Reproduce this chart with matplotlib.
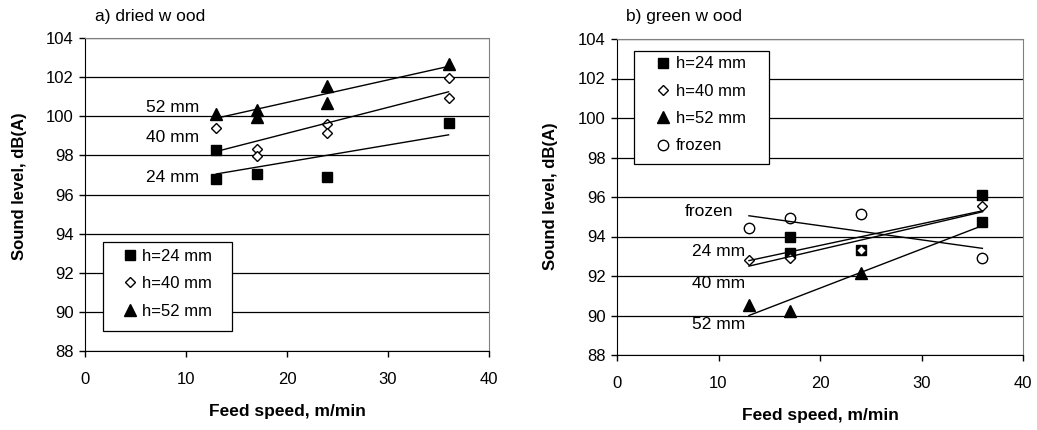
import matplotlib
matplotlib.use('Agg')
import matplotlib.pyplot as plt
from matplotlib.patches import Rectangle

plt.rcParams['font.family'] = ['Liberation Sans', 'DejaVu Sans']

# ---- data ----
# a) dried wood
speed_d24 = [13, 13, 17, 24, 36]
level_d24 = [98.3, 96.8, 97.05, 96.9, 99.65]
speed_d40 = [13, 17, 17, 24, 24, 36, 36]
level_d40 = [99.4, 98.35, 97.95, 99.6, 99.15, 101.95, 100.95]
speed_d52 = [13, 17, 17, 24, 24, 36]
level_d52 = [100.1, 100.3, 99.95, 101.55, 100.7, 102.65]

# b) green wood
speed_g24 = [17, 17, 24, 36, 36]
level_g24 = [93.95, 93.15, 93.3, 96.1, 94.75]
speed_g40 = [13, 17, 24, 36]
level_g40 = [92.8, 92.9, 93.3, 95.55]
speed_g52 = [13, 17, 24]
level_g52 = [90.55, 90.25, 92.15]
speed_frozen = [13, 17, 24, 36]
level_frozen = [94.45, 94.95, 95.15, 92.9]

# trend lines (end points at the speed range)
fit_speed = [13, 36]
fit_d24 = [97.05, 99.05]
fit_d40 = [98.2, 101.25]
fit_d52 = [99.9, 102.55]
fit_g24 = [92.78, 95.3]
fit_g40 = [92.5, 95.25]
fit_g52 = [90.0, 94.55]
fit_frozen = [95.05, 93.4]

x_ticks = [0, 10, 20, 30, 40]
y_ticks = list(range(88, 105, 2))

FS = 12
FS_BIG = 12.5
sq = dict(marker='s', ms=7.7, mfc='black', mec='black', ls='none', zorder=4)
dm = dict(marker='D', ms=5.6, mfc='white', mec='black', mew=1.0, ls='none', zorder=5)
tr = dict(marker='^', ms=8.5, mfc='black', mec='black', ls='none', zorder=4)
ci = dict(marker='o', ms=7.5, mfc='white', mec='black', mew=1.0, ls='none', zorder=4)
ln = dict(color='black', lw=1.0, zorder=6)

fig = plt.figure(figsize=(10.37, 4.30), dpi=100)
ax1 = fig.add_axes([85 / 1037, 79 / 430, 404 / 1037, 313 / 430])
ax2 = fig.add_axes([617 / 1037, 75 / 430, 406 / 1037, 316 / 430])


def style_axes(ax):
    ax.set_xlim(0, 40)
    ax.set_ylim(88, 104)
    ax.set_xticks(x_ticks)
    ax.set_yticks(y_ticks)
    ax.tick_params(direction='out', length=4, width=1, labelsize=FS, colors='black')
    ax.tick_params(axis='x', pad=11)
    ax.tick_params(axis='y', pad=4)
    for y in y_ticks:
        ax.axhline(y, color='black', lw=0.9, zorder=1)
    for s in ['top', 'right']:
        ax.spines[s].set_color('#808080')
    for s in ['left', 'bottom']:
        ax.spines[s].set_color('black')
    ax.set_xlabel('Feed speed, m/min', fontsize=FS_BIG, fontweight='bold')
    ax.set_ylabel('Sound level, dB(A)', fontsize=FS, fontweight='bold')
    ax.xaxis.set_label_coords(0.5, -0.169)


def boxed_legend(ax, box, anchor):
    # white frame drawn separately so its padding can match the original
    ax.add_patch(Rectangle(box[:2], box[2], box[3], transform=ax.transAxes,
                           facecolor='white', edgecolor='black', lw=0.9,
                           zorder=9, clip_on=False))
    leg = ax.legend(loc='upper left', bbox_to_anchor=anchor, borderaxespad=0,
                    borderpad=0, fontsize=FS, frameon=False, handlelength=1.0,
                    handletextpad=0.25, labelspacing=0.74)
    leg.set_zorder(10)
    return leg


# ---- a) dried wood ----
style_axes(ax1)
ax1.yaxis.set_label_coords(-0.144, 0.525)
ax1.plot(speed_d24, level_d24, label='h=24 mm', **sq)
ax1.plot(speed_d40, level_d40, label='h=40 mm', **dm)
ax1.plot(speed_d52, level_d52, label='h=52 mm', **tr)
ax1.plot(fit_speed, fit_d24, **ln)
ax1.plot(fit_speed, fit_d40, **ln)
ax1.plot(fit_speed, fit_d52, **ln)
ax1.text(11.3, 100.45, '52 mm', ha='right', va='center', fontsize=FS_BIG)
ax1.text(11.3, 98.9, '40 mm', ha='right', va='center', fontsize=FS_BIG)
ax1.text(11.3, 96.85, '24 mm', ha='right', va='center', fontsize=FS_BIG)
boxed_legend(ax1, (0.0438, 0.0639, 0.319, 0.283), (0.0896, 0.326))

# ---- b) green wood ----
style_axes(ax2)
ax2.yaxis.set_label_coords(-0.145, 0.503)
ax2.plot(speed_g24, level_g24, label='h=24 mm', **sq)
ax2.plot(speed_g40, level_g40, label='h=40 mm', **dm)
ax2.plot(speed_g52, level_g52, label='h=52 mm', **tr)
ax2.plot(speed_frozen, level_frozen, label='frozen', **ci)
ax2.plot(fit_speed, fit_g24, **ln)
ax2.plot(fit_speed, fit_g40, **ln)
ax2.plot(fit_speed, fit_g52, **ln)
ax2.plot(fit_speed, fit_frozen, **ln)
ax2.text(11.5, 95.25, 'frozen', ha='right', va='center', fontsize=FS_BIG)
ax2.text(12.6, 93.25, '24 mm', ha='right', va='center', fontsize=FS_BIG)
ax2.text(12.6, 91.6, '40 mm', ha='right', va='center', fontsize=FS_BIG)
ax2.text(12.6, 89.55, '52 mm', ha='right', va='center', fontsize=FS_BIG)
boxed_legend(ax2, (0.0419, 0.605, 0.3325, 0.3576), (0.0936, 0.945))

fig.text(95 / 1037, 1 - 16 / 430, 'a) dried w ood', ha='left', va='center', fontsize=FS_BIG)
fig.text(626 / 1037, 1 - 16 / 430, 'b) green w ood', ha='left', va='center', fontsize=FS_BIG)

fig.savefig('out.png', dpi=100, facecolor='white')
